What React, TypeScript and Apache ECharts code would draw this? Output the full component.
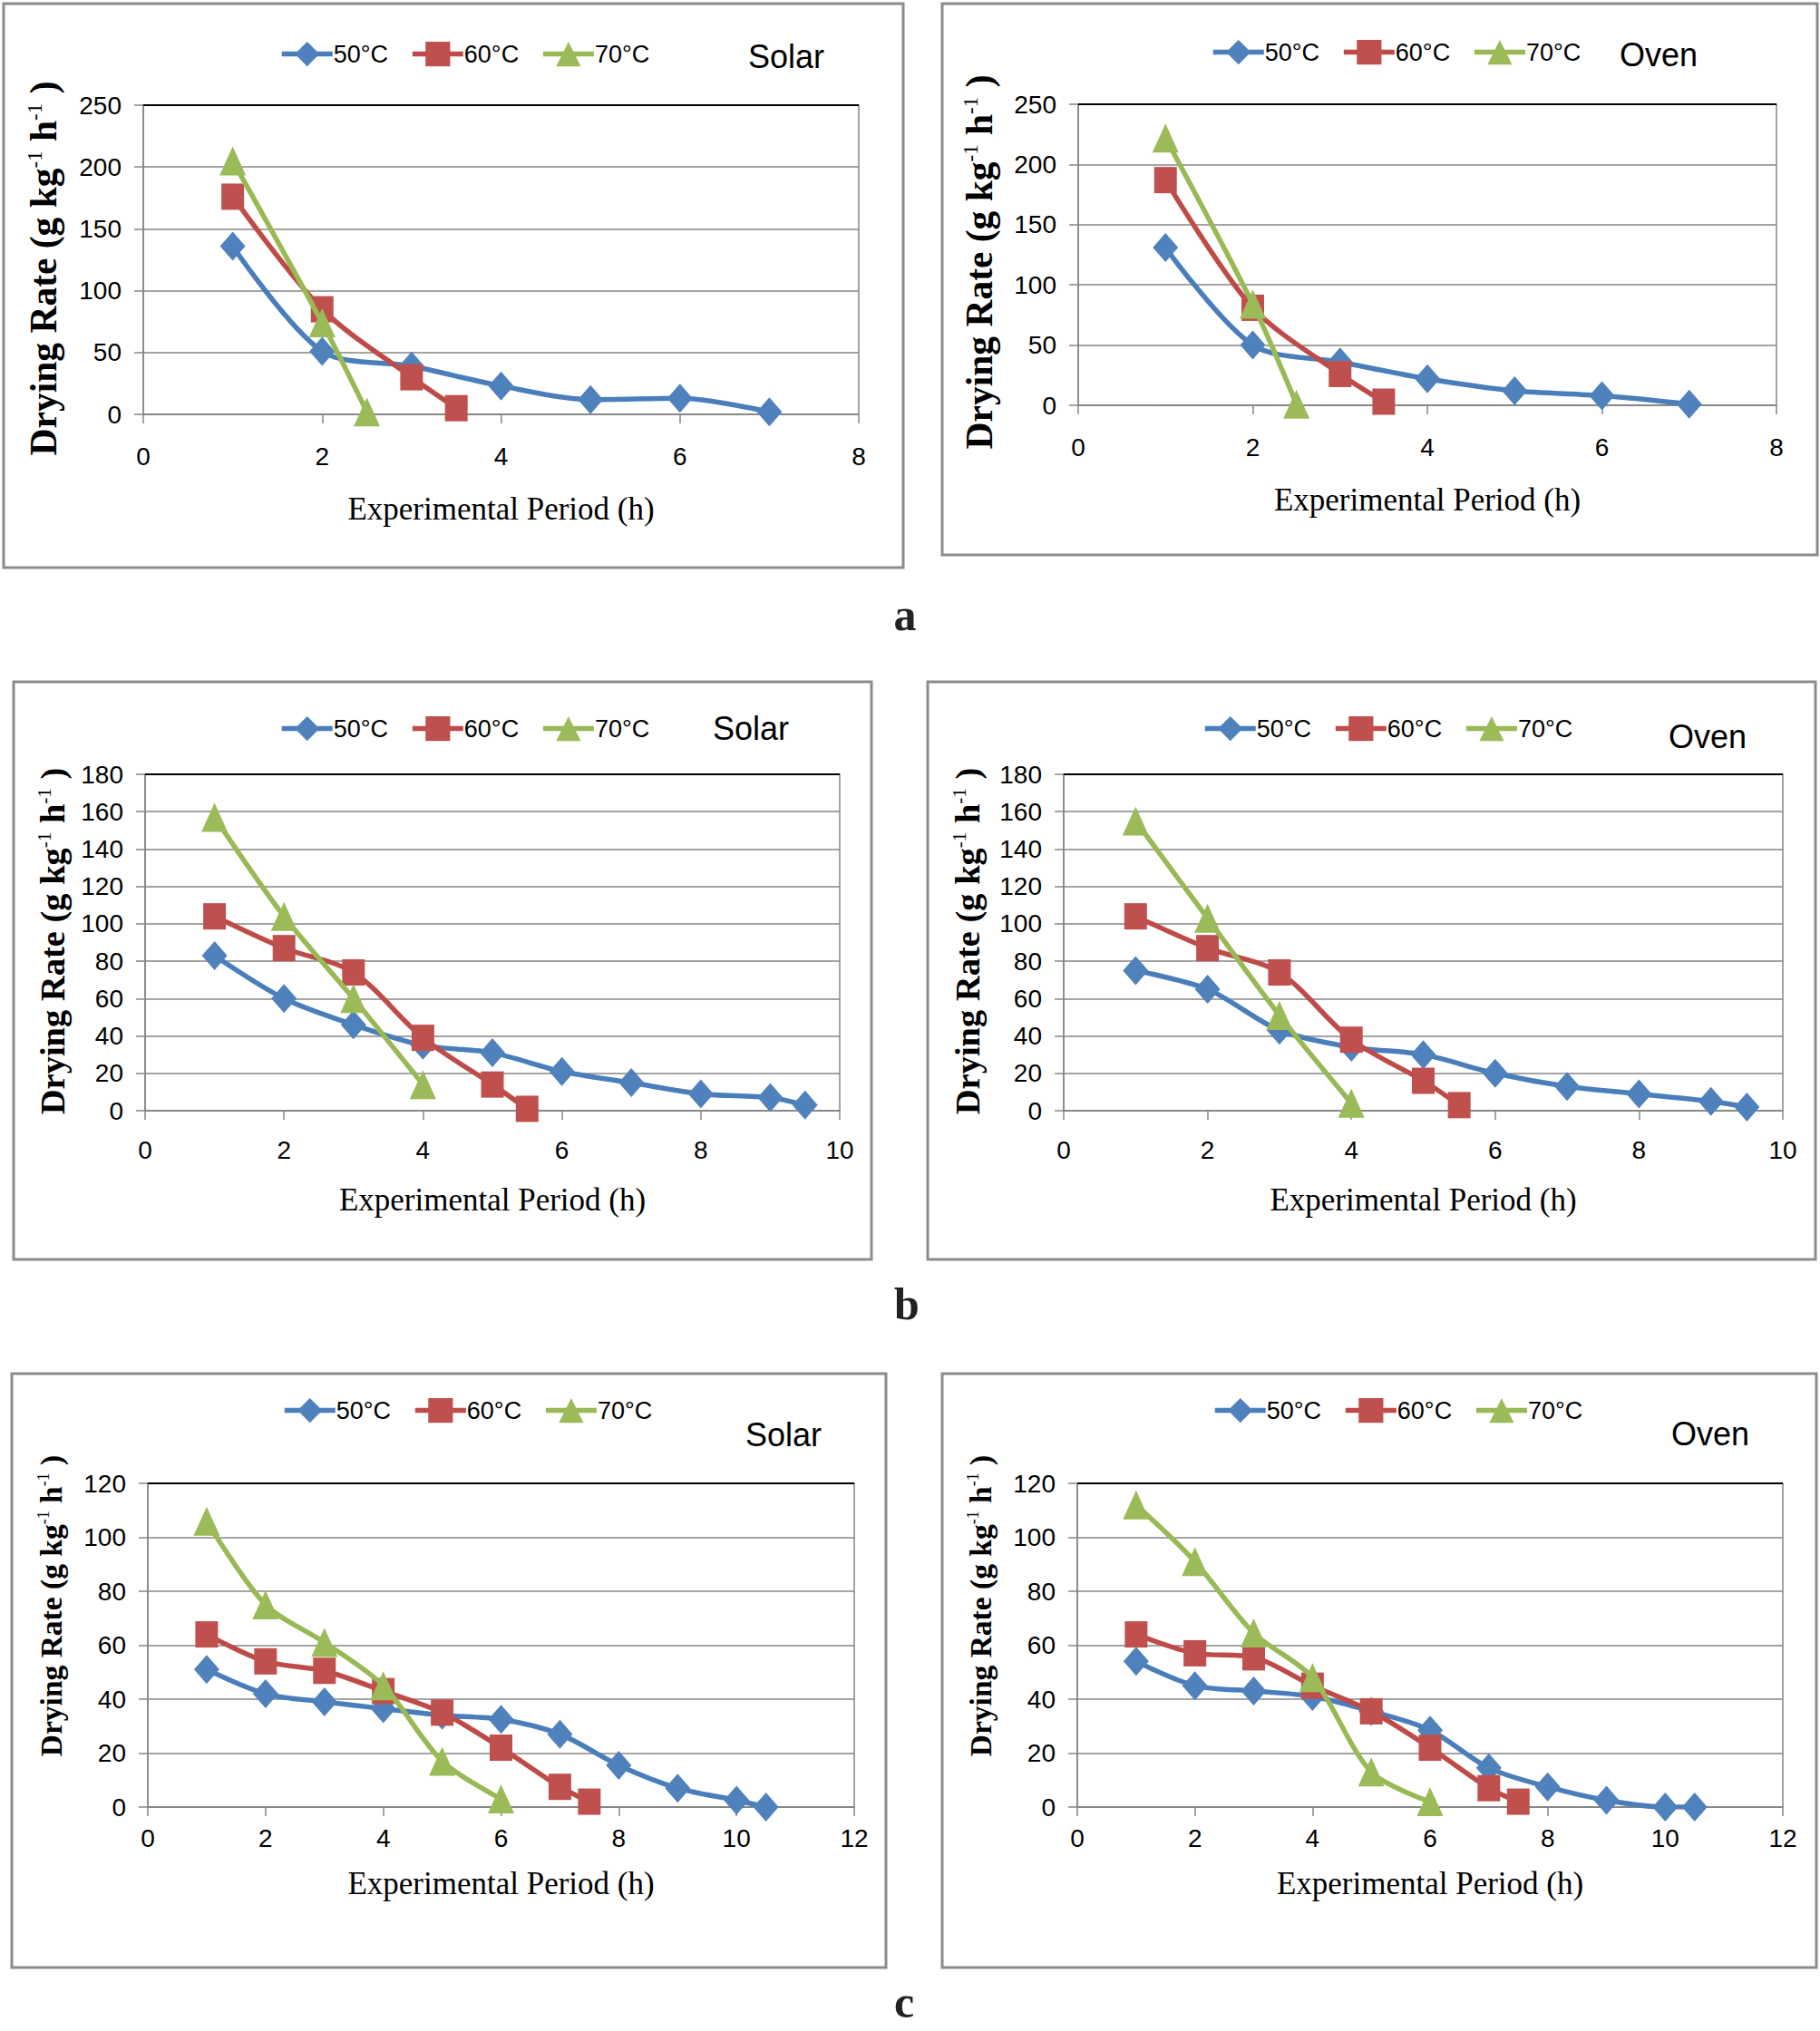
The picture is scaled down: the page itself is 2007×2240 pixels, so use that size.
import React, { useEffect, useRef } from "react";
import * as echarts from "echarts";

// ---------- data ----------
const seriesNames = ["50°C", "60°C", "70°C"];
const panelTags = ["Solar", "Oven", "Solar", "Oven", "Solar", "Oven"];
const figureLetters = ["a", "b", "c"];
const xAxisTitle = "Experimental Period (h)";
const yAxisTitle = "Drying Rate (g kg{sup|-1} h{sup|-1} )";

// a – Solar
const aSolarHours50 = [1, 2, 3, 4, 5, 6, 7];
const aSolarRate50 = [136, 51, 39, 23, 12, 13, 2];
const aSolarHours60 = [1, 2, 3, 3.5];
const aSolarRate60 = [176, 85, 30, 5];
const aSolarHours70 = [1, 2, 2.5];
const aSolarRate70 = [205, 74, 2];
// a – Oven
const aOvenHours50 = [1, 2, 3, 4, 5, 6, 7];
const aOvenRate50 = [131, 50, 36, 22, 12, 8, 1];
const aOvenHours60 = [1, 2, 3, 3.5];
const aOvenRate60 = [187, 81, 26, 3];
const aOvenHours70 = [1, 2, 2.5];
const aOvenRate70 = [222, 84, 1];
// b – Solar
const bSolarHours50 = [1, 2, 3, 4, 5, 6, 7, 8, 9, 9.5];
const bSolarRate50 = [83, 60, 46, 35, 31, 21, 15, 9, 7, 3];
const bSolarHours60 = [1, 2, 3, 4, 5, 5.5];
const bSolarRate60 = [104, 87, 74, 39, 14, 1];
const bSolarHours70 = [1, 2, 3, 4];
const bSolarRate70 = [157, 104, 60, 14];
// b – Oven
const bOvenHours50 = [1, 2, 3, 4, 5, 6, 7, 8, 9, 9.5];
const bOvenRate50 = [75, 65, 43, 34, 30, 20, 13, 9, 5, 2];
const bOvenHours60 = [1, 2, 3, 4, 5, 5.5];
const bOvenRate60 = [104, 87, 74, 38, 16, 3];
const bOvenHours70 = [1, 2, 3, 4];
const bOvenRate70 = [155, 103, 51, 4];
// c – Solar
const cSolarHours50 = [1, 2, 3, 4, 5, 6, 7, 8, 9, 10, 10.5];
const cSolarRate50 = [51, 42, 39, 36.5, 34, 32.5, 27, 15.5, 7, 2.5, 0];
const cSolarHours60 = [1, 2, 3, 4, 5, 6, 7, 7.5];
const cSolarRate60 = [64, 54, 50.5, 43, 35, 22, 7.5, 2];
const cSolarHours70 = [1, 2, 3, 4, 5, 6];
const cSolarRate70 = [106, 75, 61, 45, 17, 3];
// c – Oven
const cOvenHours50 = [1, 2, 3, 4, 5, 6, 7, 8, 9, 10, 10.5];
const cOvenRate50 = [54, 45, 43, 41, 35.5, 28.5, 14.5, 7.5, 2.5, 0, 0];
const cOvenHours60 = [1, 2, 3, 4, 5, 6, 7, 7.5];
const cOvenRate60 = [64, 57, 55.5, 45, 35.5, 22, 7, 2];
const cOvenHours70 = [1, 2, 3, 4, 5, 6];
const cOvenRate70 = [112, 91, 64.5, 48, 13, 2];

// axis ranges (max, step)
const xRangeA = [8, 2];
const yRangeA = [250, 50];
const xRangeB = [10, 2];
const yRangeB = [180, 20];
const xRangeC = [12, 2];
const yRangeC = [120, 20];

const panelData = [
  { x: xRangeA, y: yRangeA, s: [[aSolarHours50, aSolarRate50], [aSolarHours60, aSolarRate60], [aSolarHours70, aSolarRate70]] },
  { x: xRangeA, y: yRangeA, s: [[aOvenHours50, aOvenRate50], [aOvenHours60, aOvenRate60], [aOvenHours70, aOvenRate70]] },
  { x: xRangeB, y: yRangeB, s: [[bSolarHours50, bSolarRate50], [bSolarHours60, bSolarRate60], [bSolarHours70, bSolarRate70]] },
  { x: xRangeB, y: yRangeB, s: [[bOvenHours50, bOvenRate50], [bOvenHours60, bOvenRate60], [bOvenHours70, bOvenRate70]] },
  { x: xRangeC, y: yRangeC, s: [[cSolarHours50, cSolarRate50], [cSolarHours60, cSolarRate60], [cSolarHours70, cSolarRate70]] },
  { x: xRangeC, y: yRangeC, s: [[cOvenHours50, cOvenRate50], [cOvenHours60, cOvenRate60], [cOvenHours70, cOvenRate70]] },
];

// ---------- layout / style ----------
const layouts = [
  { frame: [4, 4, 992, 622], grid: [158, 116, 947, 457], legend: [303, 58], tag: [867, 62], xGap: 87, xMargin: 32, yt: [48, 296, 41.5] },
  { frame: [1039, 4, 965, 608], grid: [1189, 115, 1959, 447], legend: [1330, 56], tag: [1829, 60], xGap: 87, xMargin: 32, yt: [1080, 289, 41.5] },
  { frame: [15, 752, 946, 637], grid: [160, 854, 926, 1225], legend: [303, 802], tag: [828, 803], xGap: 81, xMargin: 29, yt: [58, 1038, 38.5] },
  { frame: [1023, 752, 979, 637], grid: [1173, 854, 1966, 1225], legend: [1321, 802], tag: [1883, 812], xGap: 81, xMargin: 29, yt: [1067, 1038, 38.5] },
  { frame: [13, 1515, 964, 655], grid: [163, 1636, 942, 1993], legend: [306, 1554], tag: [864, 1582], xGap: 67, xMargin: 20, yt: [56, 1771, 33.5] },
  { frame: [1039, 1515, 964, 655], grid: [1188, 1636, 1966, 1993], legend: [1332, 1554], tag: [1886, 1581], xGap: 67, xMargin: 20, yt: [1081, 1771, 33.5] },
];
const letterPos = [[998, 678], [1000, 1438], [997, 2208]];

const lineColors = ["#4A7EBB", "#BE4B48", "#98B954"];
const markColors = ["#4F81BD", "#C0504D", "#9BBB59"];
const symbols = ["diamond", "rect", "triangle"];
const symbolSizes = [[28, 32], [25, 29], [29, 32]];

const sans = "'Liberation Sans', Arial, sans-serif";
const serif = "'Liberation Serif', 'Times New Roman', serif";
const gridGray = "#868686";

function zip(xs: number[], ys: number[]) {
  return xs.map((x, i) => [x, ys[i]]);
}

function buildOption() {
  const grid: any[] = [];
  const xAxis: any[] = [];
  const yAxis: any[] = [];
  const series: any[] = [];
  const legend: any[] = [];
  const graphic: any[] = [];

  layouts.forEach((L, i) => {
    const [gl, gt, gr, gb] = L.grid;
    const pd = panelData[i];
    grid.push({
      left: gl,
      top: gt,
      width: gr - gl,
      height: gb - gt,
      show: true,
      borderColor: gridGray,
      borderWidth: 1.5,
      backgroundColor: "transparent",
    });
    xAxis.push({
      type: "value",
      gridIndex: i,
      min: 0,
      max: pd.x[0],
      interval: pd.x[1],
      name: xAxisTitle,
      nameLocation: "middle",
      nameGap: L.xGap,
      nameTextStyle: { fontFamily: serif, fontSize: 35, color: "#000" },
      axisLine: { show: true, lineStyle: { color: gridGray, width: 1.5 } },
      axisTick: { show: true, length: 10, lineStyle: { color: gridGray, width: 1.5 } },
      axisLabel: { fontFamily: sans, fontSize: 28, color: "#000", margin: L.xMargin },
      splitLine: { show: false },
    });
    yAxis.push({
      type: "value",
      gridIndex: i,
      min: 0,
      max: pd.y[0],
      interval: pd.y[1],
      axisLine: { show: true, lineStyle: { color: gridGray, width: 1.5 } },
      axisTick: { show: true, length: 10, lineStyle: { color: gridGray, width: 1.5 } },
      axisLabel: { fontFamily: sans, fontSize: 28, color: "#000", margin: 24 },
      splitLine: { show: true, lineStyle: { color: gridGray, width: 1.5 } },
    });
    pd.s.forEach(([hours, rates], k) => {
      series.push({
        type: "line",
        name: seriesNames[k],
        xAxisIndex: i,
        yAxisIndex: i,
        data: zip(hours, rates),
        smooth: 0.3,
        symbol: symbols[k],
        symbolSize: symbolSizes[k],
        showAllSymbol: true,
        lineStyle: { color: lineColors[k], width: 5.5 },
        itemStyle: { color: markColors[k] },
        z: 3 + k,
      });
    });
    legend.push({
      data: seriesNames,
      left: L.legend[0],
      top: L.legend[1] - 17,
      orient: "horizontal",
      itemWidth: 56,
      itemHeight: 34,
      itemGap: 24,
      selectedMode: false,
      lineStyle: { width: 5.5 },
      textStyle: { fontFamily: sans, fontSize: 27, color: "#000", padding: [0, 0, 0, -4] },
    });
    const [fx, fy, fw, fh] = L.frame;
    graphic.push({
      type: "rect",
      shape: { x: fx, y: fy, width: fw, height: fh },
      style: { fill: "none", stroke: "#8c8c8c", lineWidth: 3 },
      silent: true,
    });
    graphic.push({
      type: "line",
      shape: { x1: gl, y1: gt, x2: gr, y2: gt },
      style: { stroke: "#000", lineWidth: 2 },
      silent: true,
      z: 10,
    });
    graphic.push({
      type: "text",
      x: L.tag[0],
      y: L.tag[1],
      style: {
        text: panelTags[i],
        fontFamily: sans,
        fontSize: 36,
        fill: "#000",
        align: "center",
        verticalAlign: "middle",
      },
      silent: true,
    });
    const fsz = L.yt[2];
    graphic.push({
      type: "text",
      x: L.yt[0],
      y: L.yt[1],
      rotation: Math.PI / 2,
      style: {
        text: yAxisTitle,
        fontFamily: serif,
        fontSize: fsz,
        fontWeight: "bold",
        fill: "#000",
        align: "center",
        verticalAlign: "middle",
        rich: {
          sup: {
            fontFamily: serif,
            fontSize: Math.round(fsz * 0.55),
            fill: "#000",
            verticalAlign: "top",
            padding: [0, 0, Math.round(fsz * 0.3), 0],
          },
        },
      },
      silent: true,
    });
  });

  figureLetters.forEach((t, i) => {
    graphic.push({
      type: "text",
      x: letterPos[i][0],
      y: letterPos[i][1],
      style: {
        text: t,
        fontFamily: serif,
        fontSize: 50,
        fontWeight: "bold",
        fill: "#222",
        align: "center",
        verticalAlign: "middle",
      },
      silent: true,
    });
  });

  return {
    animation: false,
    backgroundColor: "#ffffff",
    grid,
    xAxis,
    yAxis,
    series,
    legend,
    graphic,
  };
}

export default function App() {
  const ref = useRef<HTMLDivElement>(null);
  useEffect(() => {
    document.body.style.margin = "0";
    if (!ref.current) return;
    const chart = echarts.init(ref.current, undefined, { renderer: "svg" });
    chart.setOption(buildOption() as any);
    return () => chart.dispose();
  }, []);
  return (
    <div
      ref={ref}
      style={{ position: "absolute", left: 0, top: 0, width: 2007, height: 2240 }}
    />
  );
}
